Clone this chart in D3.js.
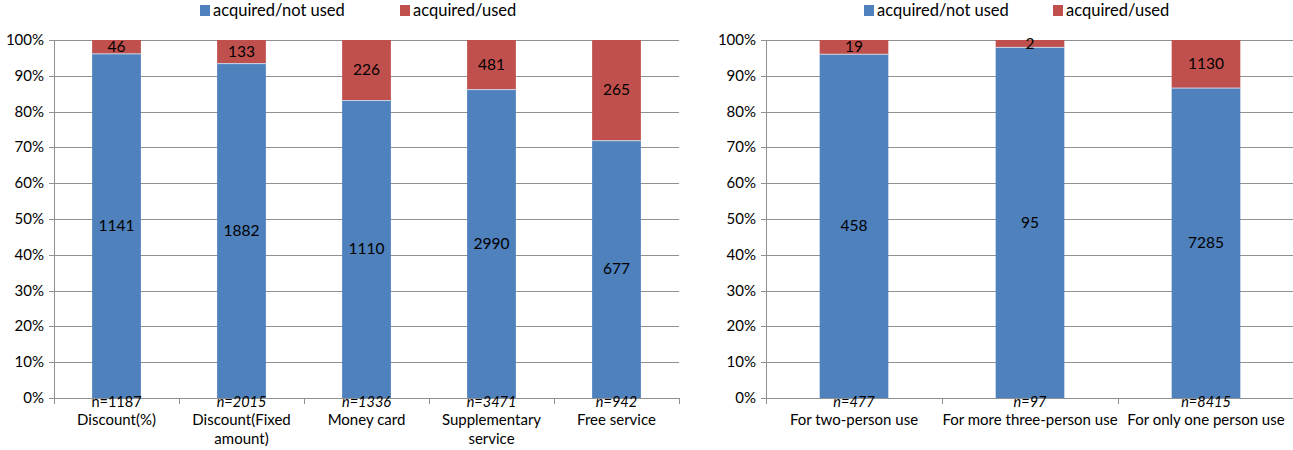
<!DOCTYPE html>
<html><head><meta charset="utf-8">
<script src="https://cdn.jsdelivr.net/npm/d3@7"></script>
<style>body{margin:0;background:#fff;} text{font-family:Lato,"Open Sans",sans-serif;}</style>
</head><body>
<svg id="c" width="1293" height="450"></svg>
<script>
const seriesNames = ["acquired/not used", "acquired/used"];
const colors = ["#4F81BD", "#C0504D"];
const yTicks = [0,0.1,0.2,0.3,0.4,0.5,0.6,0.7,0.8,0.9,1.0];

const leftCategories = [["Discount(%)"],["Discount(Fixed","amount)"],["Money card"],["Supplementary","service"],["Free service"]];
const leftN = ["n=1187","n=2015","n=1336","n=3471","n=942"];
const leftNItalic = [false,true,true,true,true];
const leftNotUsed = [1141,1882,1110,2990,677];
const leftUsed = [46,133,226,481,265];

const rightCategories = [["For two-person use"],["For more three-person use"],["For only one person use"]];
const rightN = ["n=477","n=97","n=8415"];
const rightNItalic = [true,true,true];
const rightNotUsed = [458,95,7285];
const rightUsed = [19,2,1130];

const svg = d3.select("#c");

function panel(cfg){
  const g = svg.append("g");
  const x = d3.scaleBand().domain(d3.range(cfg.cats.length)).range([cfg.x0,cfg.x1]).paddingInner(0.61).paddingOuter(0.305);
  const y = d3.scaleLinear().domain([0,1]).range([398,40]);
  g.selectAll(".grid").data(yTicks).join("line")
    .attr("x1",cfg.x0-5).attr("x2",cfg.x1).attr("y1",d=>Math.round(y(d))+0.5).attr("y2",d=>Math.round(y(d))+0.5)
    .attr("stroke","#909090").attr("stroke-width",1);
  g.append("line").attr("x1",cfg.x0+0.5).attr("x2",cfg.x0+0.5).attr("y1",40).attr("y2",398).attr("stroke","#909090");
  const bw = (cfg.x1-cfg.x0)/cfg.cats.length;
  g.selectAll(".xt").data(d3.range(cfg.cats.length+1)).join("line")
    .attr("x1",i=>Math.round(cfg.x0+i*bw)+0.5).attr("x2",i=>Math.round(cfg.x0+i*bw)+0.5)
    .attr("y1",398).attr("y2",404).attr("stroke","#909090");
  g.selectAll(".yl").data(yTicks).join("text")
    .attr("x",cfg.x0-10).attr("y",d=>y(d)+5).attr("text-anchor","end")
    .attr("font-size",15).attr("fill","#000").text(d=>d3.format(".0%")(d));
  const data = cfg.notUsed.map((v,i)=>({i, a:v, b:cfg.used[i], t:v+cfg.used[i]}));
  data.forEach(d=>{
    const fa = d.a/d.t;
    g.append("rect").attr("x",x(d.i)).attr("width",x.bandwidth()).attr("y",y(fa)).attr("height",y(0)-y(fa)).attr("fill",colors[0]);
    g.append("rect").attr("x",x(d.i)).attr("width",x.bandwidth()).attr("y",y(1)).attr("height",y(fa)-y(1)).attr("fill",colors[1]);
    g.append("line").attr("x1",x(d.i)).attr("x2",x(d.i)+x.bandwidth()).attr("y1",y(fa)).attr("y2",y(fa)).attr("stroke","#c9d6e8").attr("stroke-width",1);
    const cx = x(d.i)+x.bandwidth()/2;
    g.append("text").attr("x",cx).attr("y",y(fa/2)+5).attr("text-anchor","middle").attr("font-size",15.5).attr("fill","#000").text(d.a);
    g.append("text").attr("x",cx).attr("y",Math.max(y((1+fa)/2)+5,y(1)+8)).attr("text-anchor","middle").attr("font-size",15.5).attr("fill","#000").text(d.b);
    g.append("text").attr("x",cx).attr("y",407).attr("text-anchor","middle").attr("font-size",14.5)
      .attr("font-style",cfg.nItalic[d.i]?"italic":"normal").attr("fill","#000").text(cfg.n[d.i]);
    cfg.cats[d.i].forEach((line,k)=>{
      g.append("text").attr("x",cx).attr("y",425+k*19).attr("text-anchor","middle").attr("font-size",15).attr("fill","#000").text(line);
    });
  });
  const lg = g.append("g");
  lg.append("rect").attr("x",cfg.lx).attr("y",5).attr("width",10).attr("height",11).attr("fill",colors[0]);
  lg.append("text").attr("x",cfg.lx+13).attr("y",16).attr("font-size",16.5).attr("fill","#000").text(seriesNames[0]);
  lg.append("rect").attr("x",cfg.lx2).attr("y",5).attr("width",10).attr("height",11).attr("fill",colors[1]);
  lg.append("text").attr("x",cfg.lx2+13).attr("y",16).attr("font-size",16.5).attr("fill","#000").text(seriesNames[1]);
}

panel({x0:54,x1:679,cats:leftCategories,n:leftN,nItalic:leftNItalic,notUsed:leftNotUsed,used:leftUsed,lx:200,lx2:400});
panel({x0:766,x1:1294,cats:rightCategories,n:rightN,nItalic:rightNItalic,notUsed:rightNotUsed,used:rightUsed,lx:864,lx2:1053});
</script>
</body></html>
